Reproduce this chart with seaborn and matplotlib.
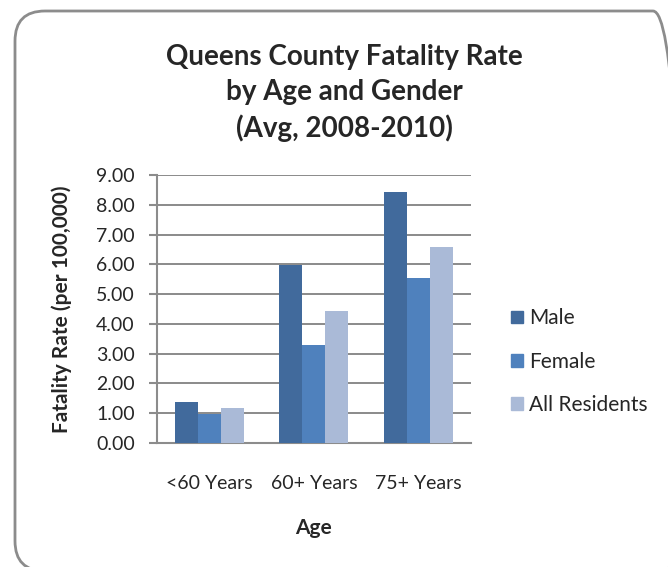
import numpy as np
import pandas as pd
import matplotlib
matplotlib.use('Agg')
import matplotlib.pyplot as plt
from matplotlib.patches import FancyBboxPatch
from matplotlib.transforms import IdentityTransform
import seaborn as sns

ages = ['<60 Years', '60+ Years', '75+ Years']
groups = ['Male', 'Female', 'All Residents']
male = [1.38, 5.98, 8.44]
female = [0.97, 3.30, 5.55]
all_res = [1.17, 4.45, 6.57]
colors = ['#416A9C', '#4F81BD', '#AABAD7']
yticks = [0, 1, 2, 3, 4, 5, 6, 7, 8, 9]

df = pd.DataFrame({
    'age': ages * 3,
    'group': [groups[0]] * 3 + [groups[1]] * 3 + [groups[2]] * 3,
    'rate': male + female + all_res,
})

sns.set_style('white')
plt.rcParams['font.family'] = ['Lato', 'DejaVu Sans']

fig = plt.figure(figsize=(6.68, 5.67), dpi=100)
ax = fig.add_axes([0.235, 0.219, 0.470, 0.472])

sns.barplot(data=df, x='age', y='rate', hue='group', hue_order=groups,
            palette=colors, width=0.66, gap=0, saturation=1, ax=ax,
            edgecolor='none', linewidth=0, zorder=3)

ax.set_ylim(0, 9)
ax.set_yticks(yticks)
ax.set_yticklabels(['%.2f' % v for v in yticks], fontsize=14)
ax.tick_params(axis='y', length=6, width=1.5, color='#8c8c8c', direction='out', pad=10, left=True)
ax.tick_params(axis='x', length=0, labelsize=14, pad=23)
ax.yaxis.grid(True, color='#8a8a8a', linewidth=1.4, zorder=0)
ax.set_axisbelow(True)
for s in ['top', 'right']:
    ax.spines[s].set_visible(False)
for s in ['left', 'bottom']:
    ax.spines[s].set_color('#8c8c8c')
    ax.spines[s].set_linewidth(1.5)

ax.set_xlabel('Age', fontsize=15, fontweight='bold', labelpad=19)
ax.set_ylabel('Fatality Rate (per 100,000)', fontsize=15, fontweight='bold')
ax.yaxis.set_label_coords(-0.27, 0.5)

ax.legend_.remove()
handles = [plt.Rectangle((0, 0), 1, 1, color=c) for c in colors]
fig.legend(handles, groups, loc='center left', bbox_to_anchor=(0.737, 0.362),
           frameon=False, fontsize=15, handlelength=0.55, handleheight=0.55,
           handletextpad=0.3, labelspacing=1.12)

fig.text(0.515, 0.836, 'Queens County Fatality Rate\nby Age and Gender\n(Avg, 2008-2010)',
         ha='center', va='center', fontsize=20, fontweight='bold', linespacing=1.4)

# rounded chart-area border, cut off at right and bottom
border = FancyBboxPatch((15, -4), 668, 560,
                        boxstyle='round,pad=0,rounding_size=30',
                        transform=IdentityTransform(), fill=False,
                        edgecolor='#8c8c8c', linewidth=2.0)
fig.patches.append(border)

fig.savefig('out.png', dpi=100)
